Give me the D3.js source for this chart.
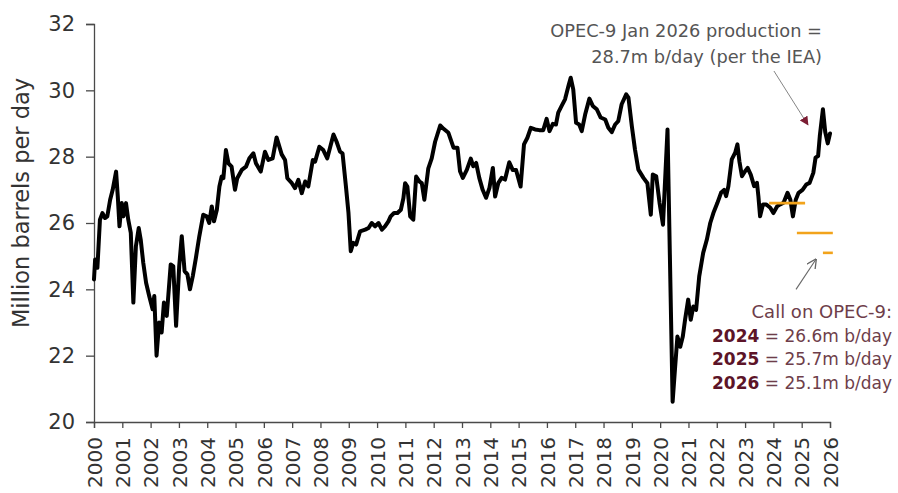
<!DOCTYPE html>
<html>
<head>
<meta charset="utf-8">
<script src="https://cdn.jsdelivr.net/npm/d3@7"></script>
<style>
  html, body { margin: 0; padding: 0; background: #ffffff; }
  svg { display: block; font-family: "DejaVu Sans", sans-serif; }
</style>
</head>
<body>
<svg id="chart" width="898" height="493"></svg>
<script>
// OPEC-9 crude production, million barrels per day (decimal year, value)
const years = [
  2000.00, 2000.04, 2000.12, 2000.21, 2000.30, 2000.39, 2000.47, 2000.57, 2000.66, 2000.78,
  2000.84, 2000.90, 2000.98, 2001.04, 2001.13, 2001.21, 2001.30, 2001.39, 2001.48, 2001.58,
  2001.65, 2001.74, 2001.84, 2001.95, 2002.07, 2002.13, 2002.21, 2002.30, 2002.39, 2002.47,
  2002.57, 2002.71, 2002.80, 2002.90, 2003.01, 2003.10, 2003.20, 2003.30, 2003.39, 2003.49,
  2003.60, 2003.72, 2003.86, 2003.98, 2004.07, 2004.16, 2004.24, 2004.34, 2004.43, 2004.51,
  2004.57, 2004.66, 2004.75, 2004.86, 2004.98, 2005.06, 2005.22, 2005.37, 2005.49, 2005.63,
  2005.72, 2005.89, 2006.04, 2006.16, 2006.31, 2006.45, 2006.63, 2006.75, 2006.83, 2006.99,
  2007.10, 2007.22, 2007.34, 2007.46, 2007.57, 2007.73, 2007.81, 2007.96, 2008.10, 2008.24,
  2008.46, 2008.57, 2008.69, 2008.78, 2008.90, 2008.99, 2009.07, 2009.16, 2009.26, 2009.40,
  2009.58, 2009.70, 2009.81, 2009.93, 2010.05, 2010.17, 2010.28, 2010.40, 2010.48, 2010.60,
  2010.72, 2010.84, 2010.93, 2010.99, 2011.07, 2011.17, 2011.28, 2011.38, 2011.50, 2011.58,
  2011.67, 2011.81, 2011.93, 2012.05, 2012.23, 2012.35, 2012.52, 2012.70, 2012.84, 2012.93,
  2013.03, 2013.17, 2013.31, 2013.40, 2013.50, 2013.61, 2013.73, 2013.85, 2013.97, 2014.09,
  2014.17, 2014.28, 2014.40, 2014.52, 2014.67, 2014.79, 2014.91, 2015.07, 2015.19, 2015.31,
  2015.43, 2015.58, 2015.73, 2015.87, 2015.99, 2016.09, 2016.21, 2016.32, 2016.40, 2016.52,
  2016.64, 2016.76, 2016.84, 2016.93, 2017.03, 2017.14, 2017.23, 2017.35, 2017.50, 2017.62,
  2017.76, 2017.90, 2018.06, 2018.17, 2018.29, 2018.41, 2018.52, 2018.64, 2018.80, 2018.88,
  2019.00, 2019.11, 2019.23, 2019.41, 2019.55, 2019.67, 2019.74, 2019.86, 2019.98, 2020.10,
  2020.26, 2020.44, 2020.53, 2020.61, 2020.71, 2020.80, 2020.88, 2020.99, 2021.08, 2021.17,
  2021.27, 2021.38, 2021.52, 2021.65, 2021.77, 2021.88, 2022.02, 2022.15, 2022.26, 2022.33,
  2022.41, 2022.53, 2022.65, 2022.73, 2022.80, 2022.89, 2023.00, 2023.09, 2023.20, 2023.32,
  2023.42, 2023.47, 2023.53, 2023.63, 2023.75, 2023.89, 2024.00, 2024.13, 2024.24, 2024.36,
  2024.50, 2024.60, 2024.69, 2024.79, 2024.89, 2025.03, 2025.16, 2025.28, 2025.41, 2025.49,
  2025.58, 2025.64, 2025.75, 2025.83, 2025.92, 2026.00
];
const production = [
  24.30, 24.90, 24.65, 26.10, 26.30, 26.15, 26.20, 26.70, 27.00, 27.55,
  26.80, 25.90, 26.60, 26.20, 26.60, 26.10, 25.70, 23.60, 25.30, 25.85,
  25.50, 24.80, 24.20, 23.80, 23.40, 23.80, 22.00, 23.00, 22.70, 23.60,
  23.20, 24.75, 24.70, 22.90, 24.70, 25.60, 24.55, 24.45, 24.00, 24.40,
  24.95, 25.60, 26.25, 26.20, 26.00, 26.50, 26.05, 26.40, 27.10, 27.40,
  27.35, 28.20, 27.80, 27.70, 27.00, 27.35, 27.60, 27.70, 27.95, 28.10,
  27.80, 27.55, 28.15, 27.90, 27.95, 28.58, 28.07, 27.90, 27.35, 27.20,
  27.05, 27.30, 26.90, 27.25, 27.10, 27.90, 27.85, 28.30, 28.20, 27.95,
  28.67, 28.45, 28.15, 28.10, 27.10, 26.30, 25.15, 25.40, 25.35, 25.75,
  25.80, 25.85, 26.00, 25.90, 26.00, 25.80, 25.90, 26.05, 26.20, 26.30,
  26.30, 26.40, 26.75, 27.20, 27.10, 26.20, 26.10, 27.40, 27.25, 27.20,
  26.70, 27.65, 27.95, 28.45, 28.94, 28.84, 28.72, 28.27, 28.27, 27.56,
  27.36, 27.60, 27.94, 27.71, 27.81, 27.36, 27.00, 26.76, 27.06, 27.66,
  26.80, 27.20, 27.36, 27.31, 27.83, 27.60, 27.60, 27.10, 28.37, 28.57,
  28.87, 28.82, 28.80, 28.80, 29.14, 28.77, 28.99, 28.97, 29.33, 29.53,
  29.73, 30.13, 30.38, 30.03, 29.02, 28.97, 28.77, 29.27, 29.75, 29.53,
  29.43, 29.18, 29.12, 28.87, 28.74, 28.97, 29.07, 29.58, 29.88, 29.78,
  28.92, 28.22, 27.61, 27.36, 27.20, 26.25, 27.46, 27.41, 26.60, 25.95,
  28.82, 20.61, 21.67, 22.58, 22.27, 22.58, 23.08, 23.69, 23.08, 23.48,
  23.38, 24.39, 25.10, 25.50, 26.00, 26.30, 26.60, 26.91, 27.00, 26.81,
  27.11, 27.92, 28.12, 28.37, 27.86, 27.41, 27.56, 27.66, 27.46, 27.11,
  27.21, 26.81, 26.20, 26.56, 26.56, 26.46, 26.30, 26.50, 26.56, 26.61,
  26.91, 26.70, 26.20, 26.70, 26.91, 27.00, 27.16, 27.21, 27.51, 27.97,
  28.02, 28.62, 29.43, 28.75, 28.40, 28.70
];

// Call on OPEC-9 by year, with the span each marker covers
const callYears  = [2024, 2025, 2026];
const callValues = [26.6, 25.7, 25.1];
const callStart  = [2023.85, 2024.83, 2025.75];
const callEnd    = [2025.12, 2026.10, 2026.10];

const xTicks = d3.range(2000, 2027);
const yTicks = [20, 22, 24, 26, 28, 30, 32];

const svg = d3.select("#chart");
const margin = { top: 24, right: 68, bottom: 71, left: 94 };
const W = 898, H = 493;

const x = d3.scaleLinear().domain([2000, 2026]).range([margin.left, W - margin.right]);
const y = d3.scaleLinear().domain([20, 32]).range([H - margin.bottom, margin.top]);

const axisColor = "#4a4a4a";
const textColor = "#333333";

// y axis
const gy = svg.append("g")
  .attr("transform", `translate(${margin.left},0)`)
  .call(d3.axisLeft(y).tickValues(yTicks).tickSize(8).tickPadding(11).tickFormat(d3.format("d")));
gy.select(".domain").attr("stroke", axisColor).attr("stroke-width", 1.3);
gy.selectAll(".tick line").attr("stroke", axisColor).attr("stroke-width", 1.3);
gy.selectAll(".tick text").attr("fill", textColor).style("font-size", "21px")
  .style("font-family", "DejaVu Sans, sans-serif");

// x axis
const gx = svg.append("g")
  .attr("transform", `translate(0,${H - margin.bottom})`)
  .call(d3.axisBottom(x).tickValues(xTicks).tickSize(6).tickFormat(d3.format("d")));
gx.select(".domain").attr("stroke", axisColor).attr("stroke-width", 1.3);
gx.selectAll(".tick line").attr("stroke", axisColor).attr("stroke-width", 1.3);
gx.selectAll(".tick text")
  .attr("transform", "rotate(-90)")
  .attr("x", -15).attr("y", 0).attr("dy", "0.36em")
  .attr("text-anchor", "end")
  .attr("fill", textColor)
  .style("font-size", "20px")
  .style("font-family", "DejaVu Sans, sans-serif");

// y axis title
svg.append("text")
  .attr("transform", "translate(29,203) rotate(-90)")
  .attr("text-anchor", "middle")
  .attr("fill", textColor)
  .style("font-size", "22.5px")
  .text("Million barrels per day");

// production line
const series = years.map((t, i) => ({ t, v: production[i] }));
svg.append("path")
  .datum(series)
  .attr("fill", "none")
  .attr("stroke", "#000")
  .attr("stroke-width", 4)
  .attr("stroke-linejoin", "round")
  .attr("stroke-linecap", "round")
  .attr("d", d3.line().x(d => x(d.t)).y(d => y(d.v)));

// call on OPEC-9 markers
svg.append("g").selectAll("line")
  .data(callYears.map((yr, i) => ({ yr, v: callValues[i], a: callStart[i], b: callEnd[i] })))
  .join("line")
  .attr("x1", d => x(d.a)).attr("x2", d => x(d.b))
  .attr("y1", d => y(d.v)).attr("y2", d => y(d.v))
  .attr("stroke", "#f2a31b")
  .attr("stroke-width", 2.6);

// arrowheads
const defs = svg.append("defs");
defs.append("marker")
  .attr("id", "headFilled").attr("viewBox", "0 0 10 10")
  .attr("refX", 9).attr("refY", 5)
  .attr("markerWidth", 9).attr("markerHeight", 9)
  .attr("markerUnits", "userSpaceOnUse")
  .attr("orient", "auto")
  .append("path").attr("d", "M0,0 L10,5 L0,10 Z").attr("fill", "#7b1d33");
defs.append("marker")
  .attr("id", "headOpen").attr("viewBox", "0 0 10 10")
  .attr("refX", 9).attr("refY", 5)
  .attr("markerWidth", 10).attr("markerHeight", 10)
  .attr("markerUnits", "userSpaceOnUse")
  .attr("orient", "auto")
  .append("path").attr("d", "M0,0 L10,5 L0,10").attr("fill", "none")
  .attr("stroke", "#666").attr("stroke-width", 1.3);

// Jan 2026 production note
const note = svg.append("text")
  .attr("text-anchor", "end")
  .attr("fill", "#555")
  .style("font-size", "17.8px");
note.append("tspan").attr("x", 822).attr("y", 37).text("OPEC-9 Jan 2026 production =");
note.append("tspan").attr("x", 822).attr("y", 63).text("28.7m b/day (per the IEA)");

svg.append("line")
  .attr("x1", x(2024.02)).attr("y1", 71)
  .attr("x2", x(2025.22)).attr("y2", y(28.96))
  .attr("stroke", "#777").attr("stroke-width", 0.9)
  .attr("marker-end", "url(#headFilled)");

// call on OPEC-9 note
svg.append("line")
  .attr("x1", x(2024.8)).attr("y1", y(24.0))
  .attr("x2", x(2025.5)).attr("y2", y(24.9))
  .attr("stroke", "#666").attr("stroke-width", 1.1)
  .attr("marker-end", "url(#headOpen)");

const callNote = svg.append("g").style("font-size", "17px");
callNote.append("text")
  .attr("x", 892).attr("y", 318)
  .attr("text-anchor", "end")
  .attr("fill", "#6e3e4a")
  .style("font-size", "18px")
  .text("Call on OPEC-9:");

callYears.forEach((yr, i) => {
  const t = callNote.append("text")
    .attr("x", 892).attr("y", 342 + i * 23.3)
    .attr("text-anchor", "end");
  t.append("tspan").attr("fill", "#5c1428").style("font-weight", "bold").text(yr);
  t.append("tspan").attr("fill", "#6e3e4a").text(` = ${callValues[i]}m b/day`);
});
</script>
</body>
</html>
